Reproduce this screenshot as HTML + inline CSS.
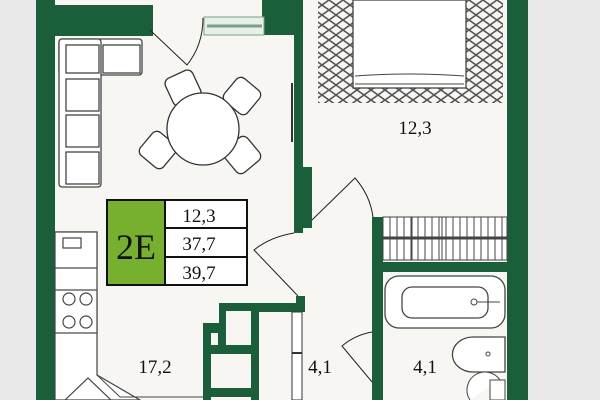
<html><body style="margin:0;width:600px;height:400px;overflow:hidden;background:#e9e9e9">
<svg width="600" height="400" viewBox="0 0 600 400" xmlns="http://www.w3.org/2000/svg" font-family="Liberation Serif, serif">
<defs>
<pattern id="dia" width="14" height="10" patternUnits="userSpaceOnUse">
<path d="M0 5 L7 0 L14 5 L7 10 Z" fill="none" stroke="#555" stroke-width="1.6"/>
</pattern>
</defs>
<rect x="0" y="0" width="600" height="400" fill="#e9e9e9"/>
<rect x="36" y="0" width="492" height="400" fill="#f7f6f2"/>
<g fill="#1a5e3a">
<rect x="36" y="0" width="19" height="400"/>
<rect x="36" y="5" width="117" height="31"/>
<rect x="262" y="0" width="40" height="35"/>
<rect x="294" y="0" width="9" height="233"/>
<rect x="303" y="167" width="9" height="61"/>
<rect x="507" y="0" width="21" height="400"/>
<rect x="372" y="217" width="11" height="183"/>
<rect x="383" y="262" width="124" height="10"/>
<rect x="296" y="296" width="9" height="16"/>
<rect x="258" y="303" width="45" height="9"/>
<rect x="219" y="303" width="40" height="97"/>
<rect x="203" y="323" width="18" height="77"/>
</g>
<rect x="55" y="0" width="207" height="5" fill="#f7f6f2"/>
<g fill="#f7f6f2">
<rect x="226" y="311" width="25" height="34"/>
<rect x="211" y="354" width="40" height="34"/>
<rect x="211" y="333" width="7" height="12"/>
<rect x="211" y="397" width="40" height="3"/>
</g>
<rect x="204" y="17" width="60" height="18" fill="#e8efe8" stroke="#7aa08a"/>
<line x1="207" y1="26" x2="262" y2="26" stroke="#7aa08a" stroke-width="3"/>
<path d="M150 30 L187 65 Q203 45 203 18" fill="none" stroke="#222"/>
<g fill="#fff" stroke="#444" stroke-width="1.3">
<rect x="59" y="39" width="83" height="36" rx="3"/>
<rect x="59" y="39" width="42" height="148" rx="3"/>
<rect x="66" y="45" width="33" height="28"/><rect x="103" y="45" width="37" height="28"/>
<rect x="66" y="79" width="33" height="32"/><rect x="66" y="115" width="33" height="32"/><rect x="66" y="152" width="33" height="32"/>
</g>
<g fill="#fff" stroke="#333" stroke-width="1.3">
<rect x="168" y="73" width="30" height="30" rx="6" transform="rotate(-25 183 88)"/>
<rect x="227" y="81" width="30" height="30" rx="6" transform="rotate(40 242 96)"/>
<rect x="143" y="135" width="30" height="30" rx="6" transform="rotate(40 158 150)"/>
<rect x="227" y="140" width="30" height="30" rx="6" transform="rotate(-40 242 155)"/>
<circle cx="203" cy="129" r="36"/>
</g>
<line x1="292" y1="83" x2="292" y2="142" stroke="#333" stroke-width="2"/>
<rect x="318" y="0" width="185" height="103" fill="url(#dia)"/>
<rect x="353" y="0" width="113" height="88" fill="#fff" stroke="#444" stroke-width="1.3"/>
<path d="M355 76 Q410 72 464 76 M355 84 L464 84" fill="none" stroke="#444"/>
<text x="415" y="134" font-size="19" text-anchor="middle" fill="#111">12,3</text>
<path d="M312 220 L355 178 Q370 195 373 217" fill="none" stroke="#222"/>
<path d="M294 233 Q270 237 254 250 L298 296" fill="none" stroke="#222"/>
<path d="M372 332 Q355 335 342 346 L372 382" fill="none" stroke="#222"/>
<rect x="383" y="217" width="124" height="43" fill="#fff" stroke="#444"/>
<g stroke="#444" stroke-width="1">
<path d="M390 217V260M397 217V260M404 217V260M411 217V260M418 217V260M425 217V260M432 217V260M439 217V260M446 217V260M453 217V260M460 217V260M467 217V260M474 217V260M481 217V260M488 217V260M495 217V260M502 217V260"/>
<rect x="412" y="217" width="30" height="43" fill="none"/>
<line x1="383" y1="238" x2="507" y2="238" stroke-width="3"/>
</g>
<rect x="385" y="276" width="120" height="52" rx="14" fill="#fff" stroke="#444" stroke-width="1.3"/>
<rect x="402" y="287" width="86" height="31" rx="10" fill="#fff" stroke="#444" stroke-width="1.3"/>
<circle cx="474" cy="302" r="3" fill="none" stroke="#444"/><line x1="477" y1="302" x2="500" y2="302" stroke="#444"/>
<path d="M473 337 h32 v35 h-32 a20 17 0 0 1 0-35z" fill="#fff" stroke="#444" stroke-width="1.3"/>
<circle cx="488" cy="354" r="2" fill="none" stroke="#444"/>
<path d="M490 380 h15 v20 h-15z M470 400 a17 17 0 0 1 30 -20" fill="#fff" stroke="#444"/>
<rect x="292" y="312" width="10" height="88" fill="#fff" stroke="#333"/>
<line x1="292" y1="353" x2="302" y2="353" stroke="#333" stroke-width="2"/>
<text x="320" y="373" font-size="19" text-anchor="middle" fill="#111">4,1</text>
<text x="425" y="373" font-size="19" text-anchor="middle" fill="#111">4,1</text>
<g fill="#fff" stroke="#444" stroke-width="1.2">
<path d="M55 232 H97 V375 L140 400 H55 Z"/>
<rect x="55" y="232" width="42" height="36"/>
<rect x="63" y="238" width="18" height="10"/>
<rect x="55" y="290" width="42" height="43"/>
<circle cx="69" cy="299" r="6"/><circle cx="86" cy="299" r="6"/>
<circle cx="69" cy="322" r="6"/><circle cx="86" cy="322" r="6"/>
<path d="M65 400 L88 378 L111 400" fill="none"/>
</g>
<line x1="97" y1="375" x2="120" y2="397" stroke="#444"/>
<line x1="120" y1="397" x2="205" y2="397" stroke="#444"/>
<text x="155" y="373" font-size="19" text-anchor="middle" fill="#111">17,2</text>
<rect x="107" y="200" width="58" height="85" fill="#77b02e" stroke="#111" stroke-width="2"/>
<rect x="165" y="200" width="82" height="85" fill="#fff" stroke="#111" stroke-width="2"/>
<line x1="165" y1="228" x2="247" y2="228" stroke="#111" stroke-width="2"/>
<line x1="165" y1="257" x2="247" y2="257" stroke="#111" stroke-width="2"/>
<text x="136" y="259" font-size="36" text-anchor="middle" fill="#111">2E</text>
<text x="199" y="222" font-size="19" text-anchor="middle" fill="#111">12,3</text>
<text x="199" y="250" font-size="19" text-anchor="middle" fill="#111">37,7</text>
<text x="199" y="279" font-size="19" text-anchor="middle" fill="#111">39,7</text>
</svg>
</body></html>
